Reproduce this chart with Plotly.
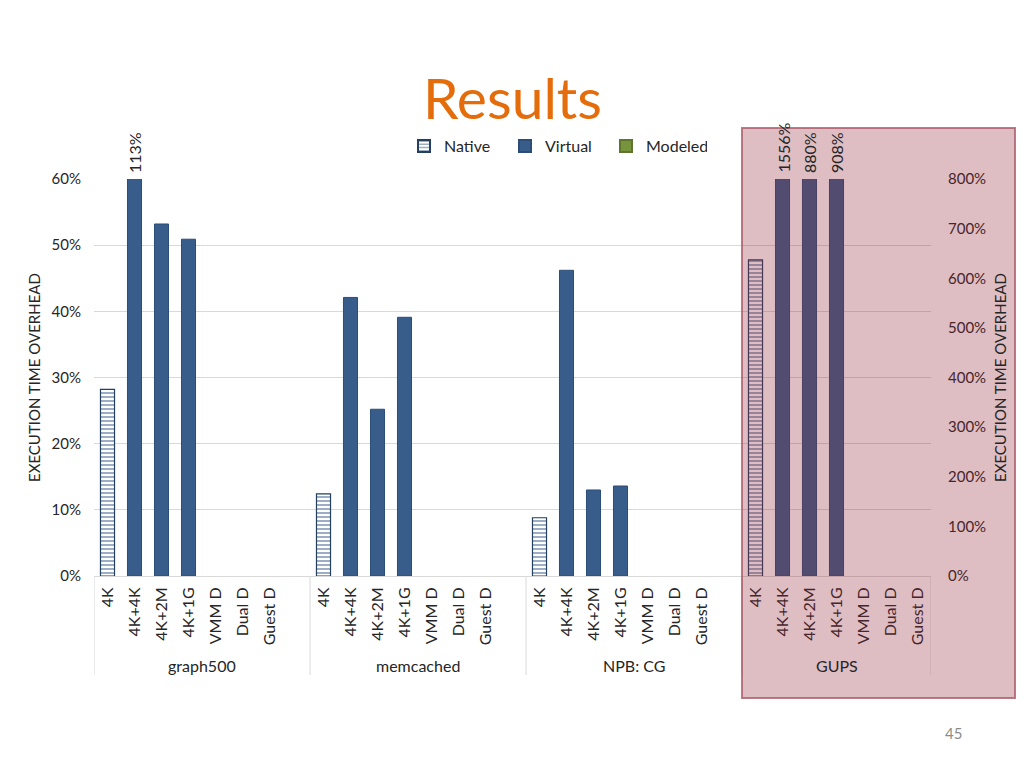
import plotly.graph_objects as go

# benchmark groups and page-size configurations
groups = ["graph500", "memcached", "NPB: CG", "GUPS"]
configs = ["4K", "4K+4K", "4K+2M", "4K+1G", "VMM D", "Dual D", "Guest D"]

# execution time overhead (%), one list per group, ordered like configs
native = [[28.2], [12.4], [8.8], [637]]
virtual = [[113, 53.2, 50.9], [42.1, 25.2, 39.1], [46.2, 13.0, 13.6], [1556, 880, 908]]
modeled = [[], [], [], []]

left_ticks = [0, 10, 20, 30, 40, 50, 60]
right_ticks = [0, 100, 200, 300, 400, 500, 600, 700, 800]

BLUE = "#385D8A"
GREEN = "#77933C"
GRID = "#D9D9D9"
TXT = "#262626"
FONT = "Lato"

slots_per_group = 8


def slot(g, c):
    return g * slots_per_group + c


# plot area in page pixels is x 94..931, y 179..576 (page has 8px body margin)
PX0, PX1, PY0, PY1 = 94, 931, 179, 576
PW, PH = PX1 - PX0, PY1 - PY0


def px(x):
    return (x - PX0) / PW


def py(y):
    return (PY1 - y) / PH


fig = go.Figure()

# left-axis groups (first three) and right-axis group (GUPS)
for axis, gidx, show in [("y", [0, 1, 2], True), ("y2", [3], False)]:
    nx, ny, vx, vy = [], [], [], []
    for g in gidx:
        for c, v in enumerate(native[g]):
            nx.append(slot(g, c))
            ny.append(v)
        for c, v in enumerate(virtual[g]):
            vx.append(slot(g, c + 1))
            vy.append(v)
    fig.add_trace(go.Bar(
        x=nx, y=ny, name="Native", yaxis=axis, showlegend=show, legendgroup="n",
        width=0.52,
        marker=dict(color="white", line=dict(color="#243F60", width=1.2),
                    pattern=dict(shape="-", fgcolor=BLUE, bgcolor="white", size=4, solidity=0.5)),
    ))
    fig.add_trace(go.Bar(
        x=vx, y=vy, name="Virtual", yaxis=axis, showlegend=show, legendgroup="v",
        width=0.52, marker=dict(color=BLUE, line=dict(color="#2C4D75", width=1)),
    ))

mx, my = [], []
for g, vals in enumerate(modeled):
    for c, v in enumerate(vals):
        mx.append(slot(g, c + 4))
        my.append(v)
fig.add_trace(go.Bar(x=mx if mx else [None], y=my if my else [None], name="Modeled",
                     width=0.52, marker=dict(color=GREEN, line=dict(color="#5E7530", width=1))))

# labels for bars that run past the axis maximum
for g in range(4):
    top = 800 if g == 3 else 60
    for c, v in enumerate(virtual[g]):
        if v > top:
            fig.add_annotation(x=slot(g, c + 1), y=top, yref="y2" if g == 3 else "y",
                               text=f"{v:.0f}%", textangle=-90, showarrow=False,
                               xanchor="center", yanchor="bottom", yshift=4,
                               font=dict(size=16, color=TXT))

tickvals, ticktext = [], []
for g in range(4):
    for c, name in enumerate(configs):
        tickvals.append(slot(g, c))
        ticktext.append(name)

fig.update_layout(
    width=1016, height=760,
    margin=dict(l=PX0 - 8, r=1016 - (PX1 - 8), t=PY0 - 8, b=760 - (PY1 - 8)),
    paper_bgcolor="white", plot_bgcolor="white",
    barmode="overlay",
    font=dict(family=FONT, size=14, color=TXT),
    showlegend=True,
    legend=dict(orientation="h", x=px(404), y=py(146), xanchor="left", yanchor="middle",
                entrywidth=56, font=dict(size=16), itemsizing="constant",
                bgcolor="rgba(0,0,0,0)"),
    xaxis=dict(range=[-0.5, 30.5], tickvals=tickvals, ticktext=ticktext, tickangle=-90,
               showgrid=False, showline=True, linecolor=GRID, ticks="", zeroline=False,
               tickfont=dict(size=16), fixedrange=True, ticklabelstandoff=4),
    yaxis=dict(range=[0, 60], tickvals=left_ticks, ticktext=[f"{v}%" for v in left_ticks],
               showgrid=True, gridcolor=GRID, zeroline=False, showline=False,
               ticklabelstandoff=12, tickfont=dict(size=15)),
    yaxis2=dict(range=[0, 800], tickvals=right_ticks, ticktext=[f"{v}%" for v in right_ticks],
                overlaying="y", side="right", showgrid=False, zeroline=False, showline=False,
                ticklabelstandoff=16, tickfont=dict(size=15)),
)

# group separators and group names below the tick labels
for xb in [-0.5, 7.5, 15.5, 23.5, 30.5]:
    fig.add_shape(type="line", x0=xb, x1=xb, xref="x", y0=0, y1=py(675), yref="paper",
                  line=dict(color=GRID, width=1))
for g, name in enumerate(groups):
    n = 7 if g == 3 else 8
    fig.add_annotation(x=slot(g, 0) - 0.5 + n / 2, y=py(665), xref="x", yref="paper",
                       text=name, showarrow=False, xanchor="center", yanchor="middle",
                       font=dict(size=16, color=TXT))

# axis titles
for xpos in [34, 1000]:
    fig.add_annotation(x=px(xpos), y=py(378), xref="paper", yref="paper",
                       text="EXECUTION TIME OVERHEAD", textangle=-90, showarrow=False,
                       xanchor="center", yanchor="middle", font=dict(size=15, color=TXT))

# slide title and page number
fig.add_annotation(x=px(512), y=py(97), xref="paper", yref="paper",
                   text="Results", showarrow=False, xanchor="center", yanchor="middle",
                   font=dict(size=57, color="#E46C0A"))
fig.add_annotation(x=px(953), y=py(733), xref="paper", yref="paper",
                   text="45", showarrow=False, xanchor="center", yanchor="middle",
                   font=dict(size=15, color="#8C8C8C"))

# highlight box around GUPS
fig.add_shape(type="rect", xref="paper", yref="paper",
              x0=px(742), x1=px(1015), y0=py(698), y1=py(128),
              fillcolor="rgba(145,38,55,0.3)", line=dict(color="rgba(170,90,105,0.8)", width=2),
              layer="above")

fig.write_html("out.html")
